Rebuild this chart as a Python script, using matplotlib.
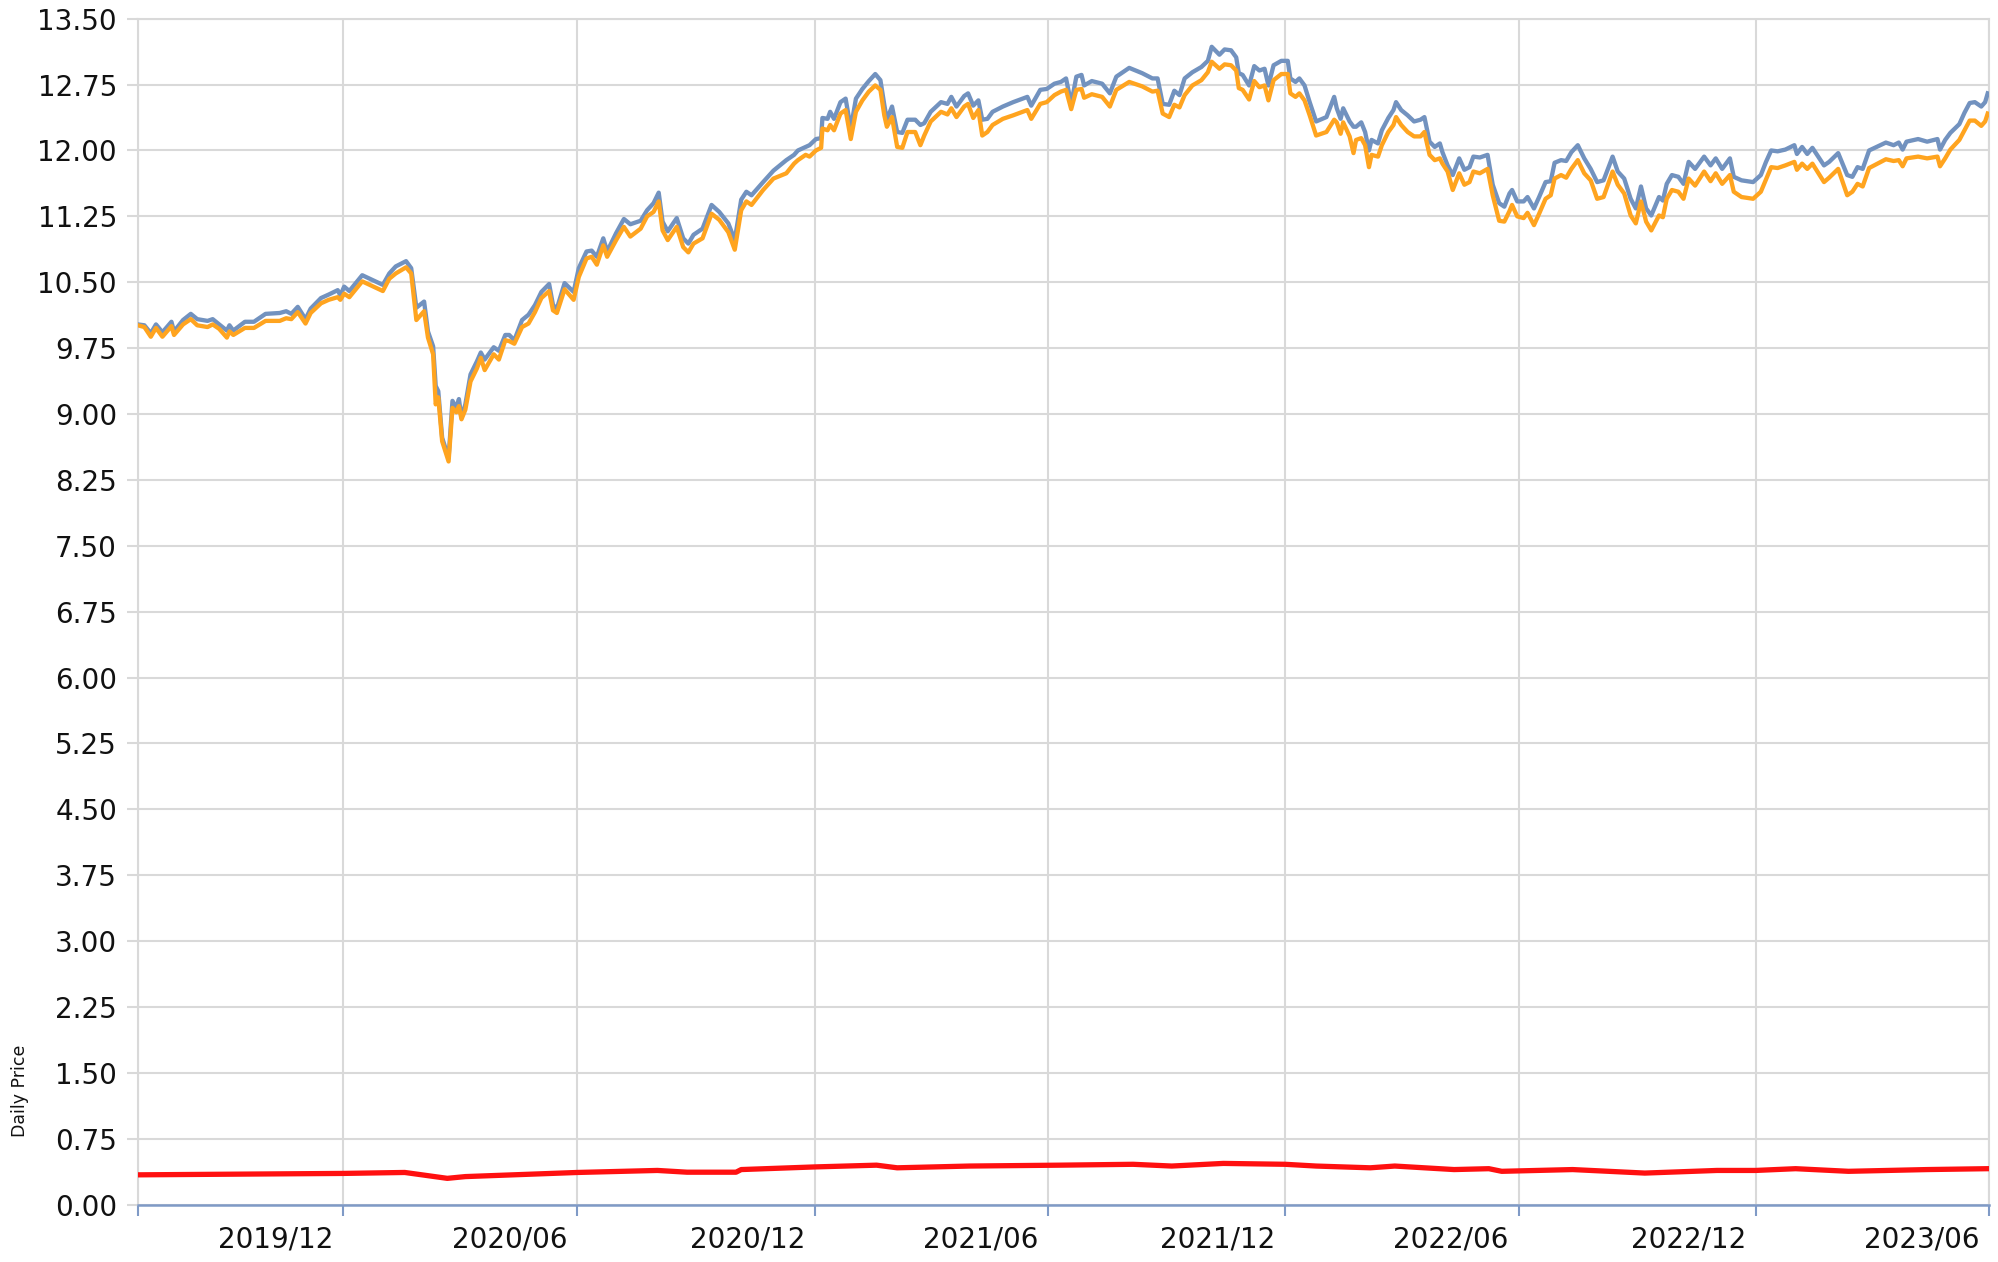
import matplotlib
matplotlib.use("Agg")
import matplotlib.pyplot as plt
from matplotlib.transforms import ScaledTranslation
import pandas as pd

# dane
dates = [
    "2019-07-26", "2019-07-31", "2019-08-05", "2019-08-09", "2019-08-14", "2019-08-21", "2019-08-23",
    "2019-08-30", "2019-09-05", "2019-09-10", "2019-09-18", "2019-09-22", "2019-09-27", "2019-10-03",
    "2019-10-05", "2019-10-08", "2019-10-17", "2019-10-24", "2019-11-02", "2019-11-13", "2019-11-18",
    "2019-11-22", "2019-11-27", "2019-12-03", "2019-12-07", "2019-12-15", "2019-12-21", "2019-12-28",
    "2019-12-30", "2020-01-02", "2020-01-06", "2020-01-16", "2020-02-01", "2020-02-06", "2020-02-11",
    "2020-02-19", "2020-02-23", "2020-02-27", "2020-03-04", "2020-03-07", "2020-03-11", "2020-03-13",
    "2020-03-15", "2020-03-18", "2020-03-23", "2020-03-26", "2020-03-29", "2020-03-31", "2020-04-02",
    "2020-04-05", "2020-04-09", "2020-04-14", "2020-04-17", "2020-04-20", "2020-04-27", "2020-05-01",
    "2020-05-06", "2020-05-09", "2020-05-13", "2020-05-19", "2020-05-24", "2020-05-29", "2020-06-03",
    "2020-06-09", "2020-06-12", "2020-06-15", "2020-06-21", "2020-06-28", "2020-07-02", "2020-07-08",
    "2020-07-12", "2020-07-16", "2020-07-21", "2020-07-24", "2020-07-31", "2020-08-06", "2020-08-11",
    "2020-08-19", "2020-08-24", "2020-08-29", "2020-09-02", "2020-09-05", "2020-09-09", "2020-09-16",
    "2020-09-21", "2020-09-25", "2020-09-29", "2020-10-06", "2020-10-13", "2020-10-19", "2020-10-26",
    "2020-10-31", "2020-11-05", "2020-11-09", "2020-11-13", "2020-11-22", "2020-11-30", "2020-12-10",
    "2020-12-16", "2020-12-19", "2020-12-25", "2020-12-28", "2021-01-02", "2021-01-06", "2021-01-07",
    "2021-01-11", "2021-01-13", "2021-01-16", "2021-01-21", "2021-01-25", "2021-01-29", "2021-02-02",
    "2021-02-07", "2021-02-12", "2021-02-17", "2021-02-21", "2021-02-24", "2021-02-26", "2021-03-02",
    "2021-03-06", "2021-03-10", "2021-03-14", "2021-03-20", "2021-03-24", "2021-03-27", "2021-04-01",
    "2021-04-09", "2021-04-14", "2021-04-17", "2021-04-21", "2021-04-27", "2021-04-30", "2021-05-04",
    "2021-05-08", "2021-05-11", "2021-05-15", "2021-05-19", "2021-05-27", "2021-06-04", "2021-06-15",
    "2021-06-18", "2021-06-25", "2021-06-30", "2021-07-06", "2021-07-11", "2021-07-15", "2021-07-19",
    "2021-07-23", "2021-07-27", "2021-07-29", "2021-08-04", "2021-08-12", "2021-08-18", "2021-08-23",
    "2021-09-02", "2021-09-12", "2021-09-20", "2021-09-24", "2021-09-28", "2021-10-03", "2021-10-07",
    "2021-10-11", "2021-10-15", "2021-10-21", "2021-10-28", "2021-11-02", "2021-11-05", "2021-11-11",
    "2021-11-15", "2021-11-20", "2021-11-24", "2021-11-26", "2021-11-29", "2021-12-04", "2021-12-08",
    "2021-12-12", "2021-12-16", "2021-12-19", "2021-12-23", "2021-12-29", "2022-01-03", "2022-01-05",
    "2022-01-09", "2022-01-12", "2022-01-16", "2022-01-20", "2022-01-25", "2022-02-02", "2022-02-08",
    "2022-02-10", "2022-02-13", "2022-02-15", "2022-02-20", "2022-02-23", "2022-02-25", "2022-03-01",
    "2022-03-04", "2022-03-07", "2022-03-09", "2022-03-14", "2022-03-17", "2022-03-22", "2022-03-26",
    "2022-03-28", "2022-04-01", "2022-04-06", "2022-04-11", "2022-04-16", "2022-04-19", "2022-04-23",
    "2022-04-27", "2022-05-01", "2022-05-03", "2022-05-07", "2022-05-11", "2022-05-16", "2022-05-20",
    "2022-05-24", "2022-05-27", "2022-06-01", "2022-06-07", "2022-06-11", "2022-06-16", "2022-06-20",
    "2022-06-24", "2022-06-26", "2022-06-30", "2022-07-05", "2022-07-08", "2022-07-13", "2022-07-17",
    "2022-07-22", "2022-07-26", "2022-07-29", "2022-08-03", "2022-08-07", "2022-08-11", "2022-08-16",
    "2022-08-21", "2022-08-26", "2022-08-31", "2022-09-05", "2022-09-12", "2022-09-16", "2022-09-21",
    "2022-09-26", "2022-09-30", "2022-10-04", "2022-10-08", "2022-10-12", "2022-10-18", "2022-10-21",
    "2022-10-24", "2022-10-28", "2022-11-02", "2022-11-06", "2022-11-10", "2022-11-15", "2022-11-22",
    "2022-11-27", "2022-12-01", "2022-12-06", "2022-12-12", "2022-12-15", "2022-12-21", "2022-12-30",
    "2023-01-05", "2023-01-09", "2023-01-13", "2023-01-18", "2023-01-24", "2023-01-31", "2023-02-02",
    "2023-02-06", "2023-02-10", "2023-02-14", "2023-02-23", "2023-02-27", "2023-03-06", "2023-03-13",
    "2023-03-17", "2023-03-21", "2023-03-25", "2023-03-30", "2023-04-12", "2023-04-18", "2023-04-22",
    "2023-04-25", "2023-04-28", "2023-05-07", "2023-05-14", "2023-05-22", "2023-05-24", "2023-05-28",
    "2023-06-01", "2023-06-08", "2023-06-12", "2023-06-16", "2023-06-20", "2023-06-25", "2023-06-28",
    "2023-06-30",
]

# linia niebieska (wyzsza)
price_blue = [
    10.02, 10.01, 9.92, 10.02, 9.93, 10.05, 9.94,
    10.07, 10.14, 10.08, 10.06, 10.08, 10.02, 9.95,
    10.01, 9.95, 10.05, 10.05, 10.14, 10.15, 10.17,
    10.14, 10.22, 10.08, 10.20, 10.32, 10.36, 10.41,
    10.35, 10.45, 10.40, 10.58, 10.47, 10.60, 10.68,
    10.74, 10.66, 10.21, 10.28, 9.94, 9.77, 9.32,
    9.26, 8.73, 8.50, 9.15, 9.07, 9.17, 8.96,
    9.11, 9.45, 9.60, 9.70, 9.62, 9.76, 9.72,
    9.90, 9.90, 9.84, 10.07, 10.13, 10.24, 10.39,
    10.48, 10.24, 10.20, 10.49, 10.39, 10.66, 10.85,
    10.86, 10.79, 11.00, 10.85, 11.06, 11.22, 11.16,
    11.20, 11.32, 11.40, 11.52, 11.19, 11.08, 11.23,
    11.00, 10.94, 11.04, 11.11, 11.38, 11.30, 11.17,
    10.98, 11.44, 11.53, 11.49, 11.64, 11.77, 11.89,
    11.95, 12.00, 12.04, 12.06, 12.13, 12.14, 12.37,
    12.36, 12.44, 12.36, 12.55, 12.59, 12.25, 12.59,
    12.70, 12.79, 12.87, 12.80, 12.52, 12.35, 12.50,
    12.21, 12.20, 12.35, 12.35, 12.29, 12.31, 12.44,
    12.55, 12.53, 12.61, 12.50, 12.62, 12.65, 12.51,
    12.57, 12.35, 12.36, 12.44, 12.50, 12.55, 12.61,
    12.51, 12.69, 12.70, 12.76, 12.78, 12.82, 12.53,
    12.84, 12.86, 12.74, 12.79, 12.76, 12.65, 12.84,
    12.94, 12.88, 12.82, 12.82, 12.53, 12.52, 12.68,
    12.63, 12.82, 12.89, 12.95, 13.02, 13.18, 13.09,
    13.15, 13.14, 13.06, 12.88, 12.86, 12.74, 12.96,
    12.91, 12.93, 12.74, 12.97, 13.02, 13.02, 12.82,
    12.78, 12.82, 12.74, 12.55, 12.33, 12.38, 12.61,
    12.48, 12.36, 12.48, 12.33, 12.27, 12.27, 12.32,
    12.21, 12.00, 12.12, 12.08, 12.23, 12.37, 12.46,
    12.55, 12.46, 12.40, 12.33, 12.35, 12.38, 12.10,
    12.04, 12.08, 11.98, 11.83, 11.72, 11.91, 11.78,
    11.81, 11.93, 11.92, 11.95, 11.61, 11.40, 11.36,
    11.51, 11.55, 11.42, 11.42, 11.47, 11.34, 11.47,
    11.64, 11.65, 11.86, 11.89, 11.88, 11.98, 12.06,
    11.91, 11.79, 11.64, 11.66, 11.93, 11.76, 11.68,
    11.45, 11.34, 11.59, 11.34, 11.26, 11.47, 11.43,
    11.62, 11.72, 11.70, 11.62, 11.87, 11.79, 11.93,
    11.83, 11.91, 11.79, 11.91, 11.70, 11.66, 11.64,
    11.72, 11.87, 12.00, 11.99, 12.01, 12.06, 11.96,
    12.04, 11.96, 12.03, 11.83, 11.87, 11.97, 11.72,
    11.70, 11.81, 11.79, 12.00, 12.09, 12.06, 12.09,
    12.01, 12.10, 12.13, 12.10, 12.13, 12.01, 12.12,
    12.20, 12.30, 12.43, 12.54, 12.55, 12.50, 12.55,
    12.65,
]

# linia pomaranczowa (nizsza)
price_orange = [
    10.01, 9.99, 9.88, 9.98, 9.88, 10.00, 9.90,
    10.02, 10.08, 10.01, 9.99, 10.02, 9.97, 9.87,
    9.94, 9.90, 9.98, 9.98, 10.06, 10.06, 10.09,
    10.08, 10.16, 10.03, 10.15, 10.26, 10.30, 10.33,
    10.30, 10.37, 10.33, 10.51, 10.40, 10.54, 10.60,
    10.67, 10.60, 10.07, 10.17, 9.87, 9.68, 9.11,
    9.19, 8.69, 8.46, 9.07, 9.02, 9.09, 8.94,
    9.05, 9.37, 9.52, 9.64, 9.50, 9.68, 9.62,
    9.84, 9.83, 9.80, 9.99, 10.03, 10.16, 10.32,
    10.40, 10.18, 10.15, 10.42, 10.30, 10.56, 10.77,
    10.79, 10.70, 10.92, 10.79, 10.98, 11.13, 11.02,
    11.11, 11.25, 11.30, 11.42, 11.09, 10.98, 11.13,
    10.90, 10.84, 10.94, 11.00, 11.28, 11.21, 11.07,
    10.87, 11.32, 11.42, 11.38, 11.55, 11.68, 11.74,
    11.85, 11.89, 11.95, 11.93, 12.00, 12.03, 12.25,
    12.23, 12.29, 12.23, 12.42, 12.46, 12.13, 12.44,
    12.57, 12.67, 12.74, 12.69, 12.40, 12.27, 12.38,
    12.04, 12.03, 12.21, 12.21, 12.06, 12.17, 12.33,
    12.44, 12.41, 12.48, 12.38, 12.50, 12.53, 12.37,
    12.46, 12.17, 12.21, 12.29, 12.36, 12.40, 12.46,
    12.36, 12.53, 12.55, 12.63, 12.67, 12.69, 12.47,
    12.69, 12.70, 12.60, 12.64, 12.61, 12.50, 12.69,
    12.78, 12.73, 12.67, 12.68, 12.42, 12.38, 12.52,
    12.49, 12.63, 12.74, 12.80, 12.89, 13.01, 12.93,
    12.98, 12.97, 12.91, 12.71, 12.69, 12.58, 12.79,
    12.72, 12.74, 12.57, 12.80, 12.87, 12.87, 12.65,
    12.61, 12.65, 12.57, 12.40, 12.17, 12.21, 12.35,
    12.32, 12.19, 12.32, 12.16, 11.97, 12.12, 12.14,
    12.06, 11.81, 11.95, 11.93, 12.06, 12.21, 12.29,
    12.38, 12.29, 12.21, 12.16, 12.16, 12.21, 11.95,
    11.89, 11.91, 11.85, 11.76, 11.55, 11.74, 11.61,
    11.64, 11.76, 11.74, 11.79, 11.49, 11.20, 11.19,
    11.31, 11.38, 11.25, 11.23, 11.29, 11.15, 11.28,
    11.45, 11.49, 11.68, 11.72, 11.69, 11.79, 11.89,
    11.74, 11.66, 11.45, 11.47, 11.76, 11.61, 11.51,
    11.26, 11.17, 11.42, 11.19, 11.09, 11.26, 11.24,
    11.45, 11.55, 11.53, 11.45, 11.68, 11.60, 11.76,
    11.65, 11.74, 11.62, 11.72, 11.53, 11.47, 11.45,
    11.53, 11.67, 11.81, 11.80, 11.83, 11.87, 11.78,
    11.85, 11.79, 11.85, 11.64, 11.69, 11.79, 11.49,
    11.53, 11.62, 11.59, 11.80, 11.90, 11.88, 11.89,
    11.82, 11.91, 11.93, 11.91, 11.93, 11.82, 11.91,
    12.01, 12.12, 12.23, 12.34, 12.34, 12.28, 12.33,
    12.42,
]

# linia czerwona (przy dole)
red_dates = [
    "2019-07-26", "2020-01-01", "2020-02-18", "2020-03-22", "2020-04-05", "2020-07-01",
    "2020-09-01", "2020-09-24", "2020-11-01", "2020-11-05", "2021-01-01", "2021-02-18",
    "2021-03-06", "2021-05-01", "2021-07-10", "2021-09-05", "2021-10-05", "2021-11-14",
    "2022-01-01", "2022-01-25", "2022-03-08", "2022-03-27", "2022-05-12", "2022-06-08",
    "2022-06-18", "2022-08-12", "2022-10-07", "2022-12-02", "2023-01-01", "2023-02-01",
    "2023-03-14", "2023-05-14", "2023-06-30",
]
red_values = [
    0.34, 0.356, 0.367, 0.30, 0.32, 0.367,
    0.39, 0.37, 0.37, 0.40, 0.43, 0.45,
    0.42, 0.44, 0.45, 0.46, 0.44, 0.47,
    0.46, 0.44, 0.42, 0.44, 0.40, 0.41,
    0.38, 0.40, 0.36, 0.39, 0.39, 0.41,
    0.38, 0.40, 0.41,
]

tick_dates = ["2019-07-26", "2020-01-01", "2020-07-01", "2021-01-01", "2021-07-01",
              "2022-01-01", "2022-07-01", "2023-01-01", "2023-07-01"]
tick_labels = ["", "2019/12", "2020/06", "2020/12", "2021/06",
               "2021/12", "2022/06", "2022/12", "2023/06"]

x = pd.to_datetime(dates)
x_red = pd.to_datetime(red_dates)
x_ticks = pd.to_datetime(tick_dates)

grid_col = "#d9d9d9"
axis_col = "#7f9ac6"

fig = plt.figure(figsize=(19.99, 12.62), dpi=100)
ax = fig.add_axes([0.069, 0.0454, 0.926, 0.9398])

ax.plot(x, price_blue, color="#7292bf", lw=3.1, zorder=3)
ax.plot(x, price_orange, color="#ffa41f", lw=3.1, zorder=4)
ax.plot(x_red, red_values, color="#ff1010", lw=3.8, zorder=4)

ax.set_xlim(x_ticks[0], x_ticks[-1])
ax.set_ylim(0, 13.5)
ax.set_yticks([i * 0.75 for i in range(19)])
ax.set_yticklabels([f"{i * 0.75:.2f}" for i in range(19)])
ax.set_xticks(x_ticks)
ax.set_xticklabels(tick_labels)

ax.grid(True, color=grid_col, lw=1.5, zorder=0)
for side in ["left", "right", "top"]:
    ax.spines[side].set_color(grid_col)
    ax.spines[side].set_linewidth(1.5)
ax.spines["bottom"].set_color(axis_col)
ax.spines["bottom"].set_linewidth(1.8)

ax.tick_params(axis="y", length=8, width=1.5, color=grid_col, pad=7,
               labelsize=20, labelcolor="#111111")
ax.tick_params(axis="x", length=8, width=1.5, color=axis_col, pad=7,
               labelsize=20, labelcolor="#111111")

# etykiety dat wyrownane do prawej od kreski
offset = ScaledTranslation(-7 / 72, 0, fig.dpi_scale_trans)
for lbl in ax.get_xticklabels():
    lbl.set_horizontalalignment("right")
    lbl.set_transform(lbl.get_transform() + offset)

fig.text(0.010, 0.1355, "Daily Price", rotation=90, ha="center", va="center",
         fontsize=12.5, color="#111111")

fig.savefig("out.png", dpi=100)
